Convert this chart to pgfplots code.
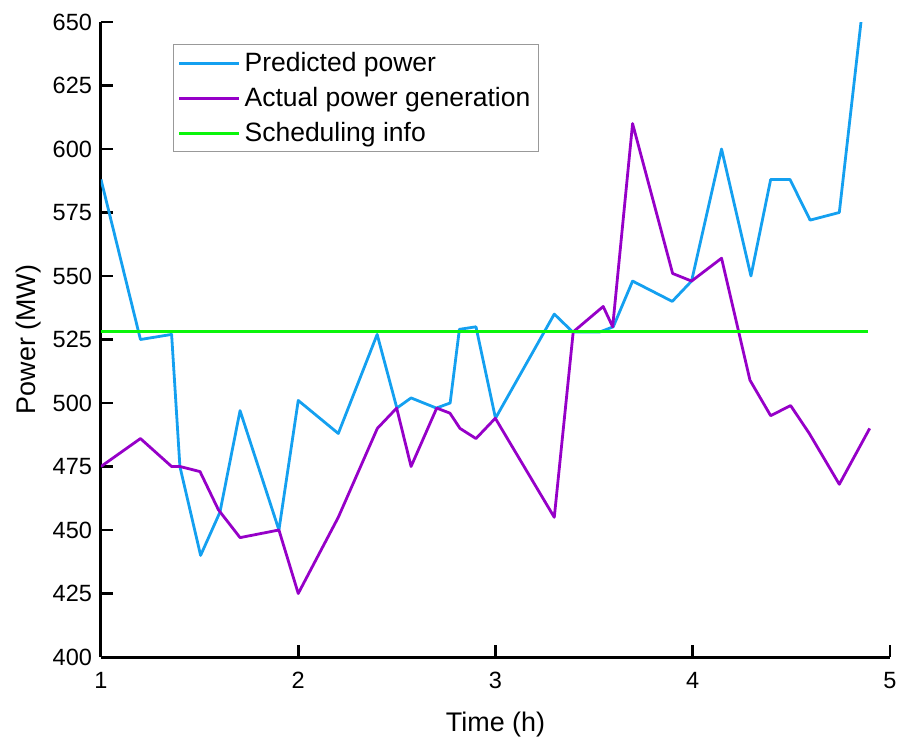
\documentclass[border=0pt]{standalone}
\usepackage{fontspec}
\setmainfont{Liberation Sans}
\usepackage{pgfplots}
\pgfplotsset{compat=1.18}

\definecolor{predblue}{RGB}{20,160,240}
\definecolor{actpurple}{RGB}{150,0,200}
\definecolor{schedgreen}{RGB}{10,245,10}

\begin{document}
\begin{tikzpicture}
\begin{axis}[
  scale only axis=true,
  width=394.5bp, height=317.5bp,
  xmin=1, xmax=5, ymin=400, ymax=650,
  axis lines*=left,
  axis line style={line width=1.5bp},
  tick style={line width=1.3bp, black},
  major tick length=6bp,
  tick align=inside,
  xtick={1,2,3,4,5},
  ytick={400,425,...,650},
  /pgf/number format/assume math mode=true,
  ticklabel style={font=\fontsize{11.8}{14}\selectfont},
  xticklabel style={yshift=-4bp},
  yticklabel style={xshift=-1bp},
  xlabel={Time (h)},
  ylabel={Power (MW)},
  label style={font=\fontsize{13.5}{16}\selectfont},
  xlabel style={yshift=-5bp},
  ylabel style={yshift=-1bp},
  legend style={at={(0.0913,0.965)}, anchor=north west,
    draw=gray!80, line width=0.6bp,
    font=\fontsize{13.3}{16}\selectfont,
    row sep=2.3bp, inner xsep=2bp, inner ysep=1.8bp,
    cells={anchor=west}},
  legend image code/.code={\draw[#1, line width=1.5bp] (0bp,0bp) -- (30bp,0bp);},
  every axis plot/.append style={line width=1.4bp, line join=round},
]
\addplot[predblue] coordinates {
  (1,588) (1.2,525) (1.358,527) (1.4,475) (1.505,440) (1.603,457)
  (1.705,497) (1.902,450) (2.0,501) (2.203,488) (2.4,527) (2.5,498)
  (2.572,502) (2.70,498) (2.77,500) (2.817,529) (2.901,530) (3.0,494)
  (3.298,535) (3.391,528) (3.53,528) (3.597,530) (3.695,548) (3.896,540)
  (3.994,548) (4.146,600) (4.295,550) (4.395,588) (4.493,588) (4.595,572)
  (4.743,575) (4.853,650)
};
\addlegendentry{Predicted power}
\addplot[actpurple] coordinates {
  (1,475) (1.2,486) (1.358,475) (1.4,475) (1.502,473) (1.595,458)
  (1.705,447) (1.902,450) (2.0,425) (2.203,455) (2.401,490) (2.499,498)
  (2.572,475) (2.702,498) (2.769,496) (2.82,490) (2.901,486) (2.999,494)
  (3.298,455) (3.394,528) (3.546,538) (3.594,530) (3.695,610) (3.898,551)
  (3.994,548) (4.146,557) (4.29,509) (4.395,495) (4.496,499) (4.591,488)
  (4.743,468) (4.897,490)
};
\addlegendentry{Actual power generation}
\addplot[schedgreen] coordinates {(1,528) (4.89,528)};
\addlegendentry{Scheduling info}
\end{axis}
\pgfresetboundingbox
\path (-50.5bp,-40.5bp) rectangle (398bp,328.5bp);
\end{tikzpicture}
\end{document}
